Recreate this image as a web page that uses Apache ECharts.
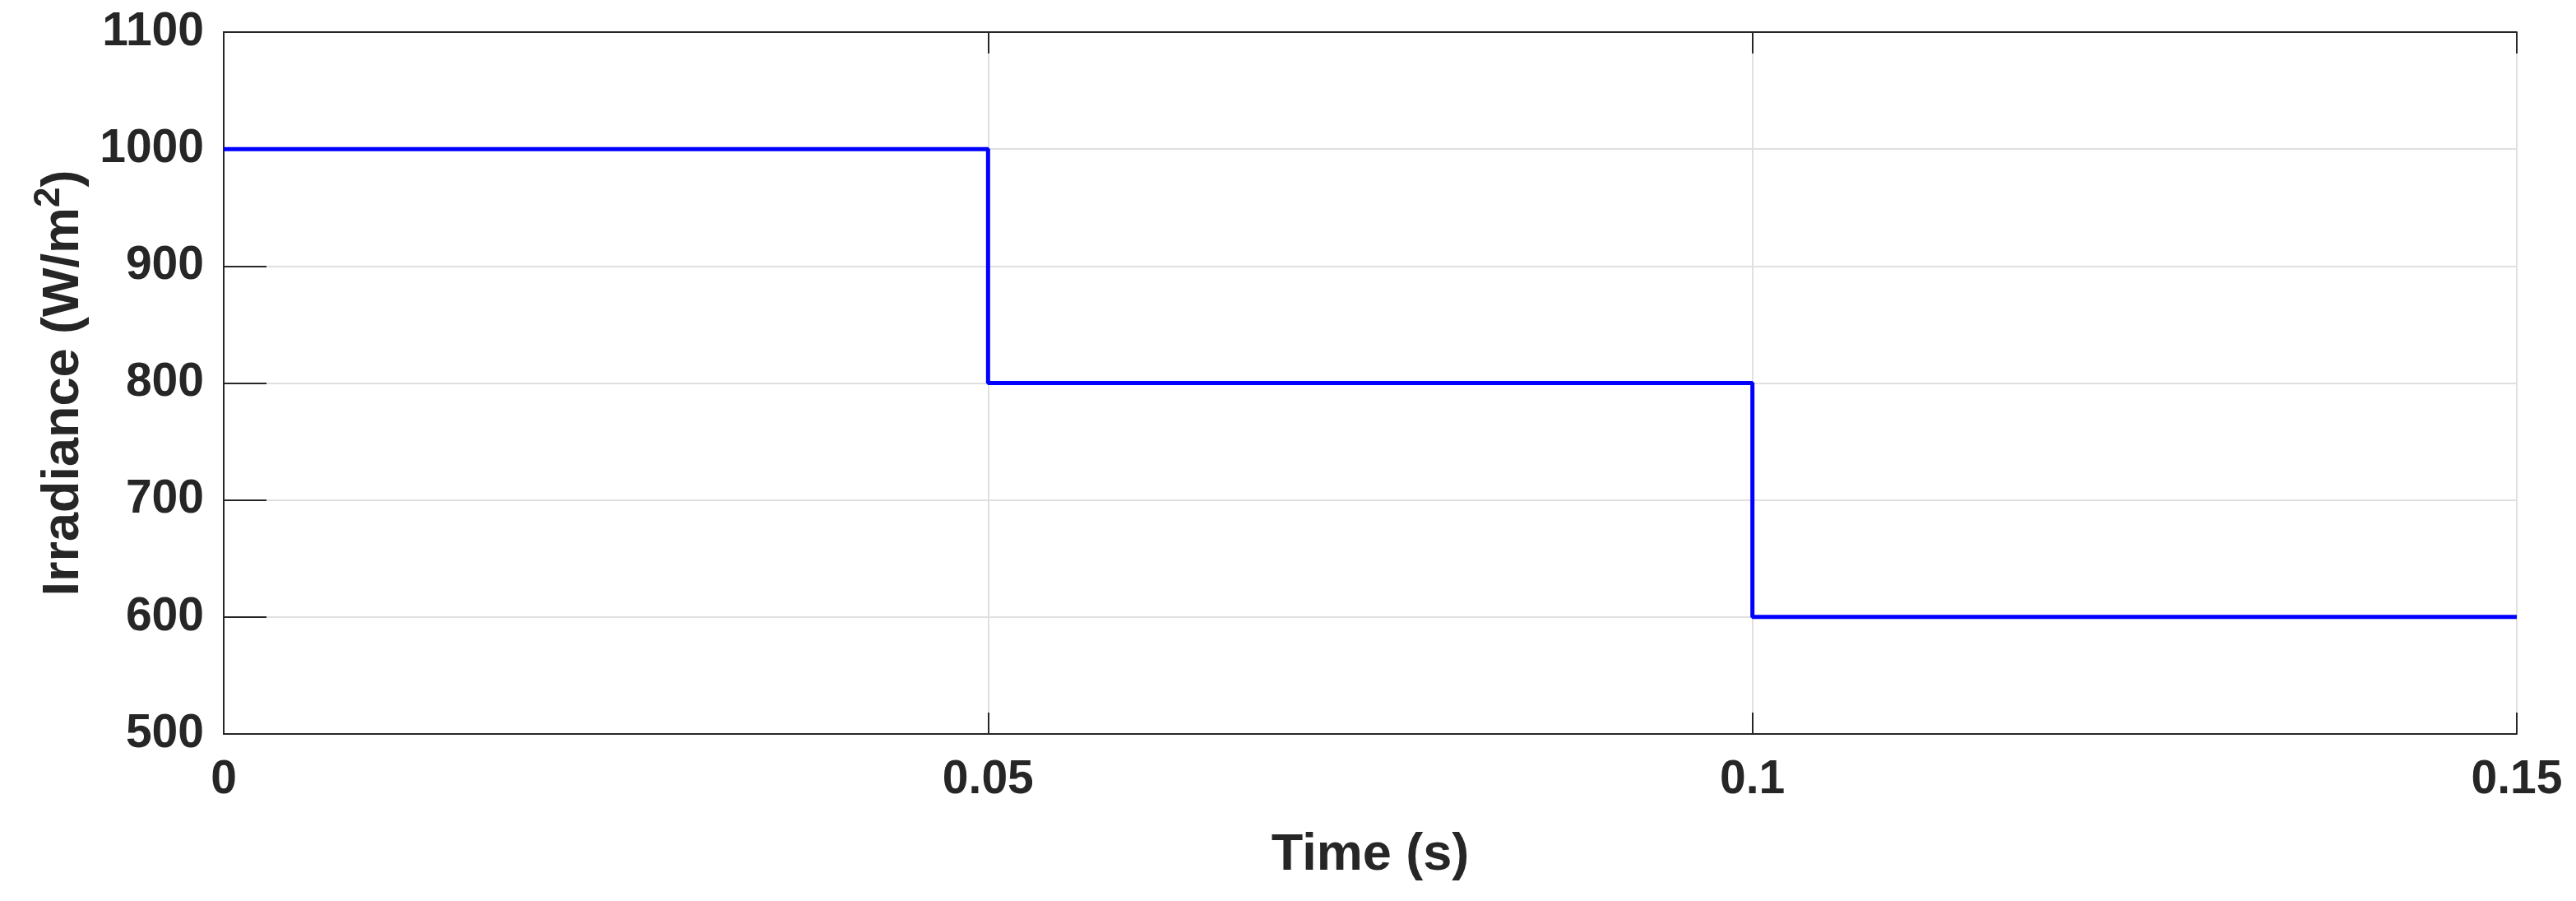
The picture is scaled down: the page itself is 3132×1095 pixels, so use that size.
<!DOCTYPE html>
<html>
<head>
<meta charset="utf-8">
<script src="https://cdn.jsdelivr.net/npm/echarts@6/dist/echarts.min.js"></script>
<style>
  html, body { margin: 0; padding: 0; background: #fff; }
  #chart { width: 3132px; height: 1095px; }
</style>
</head>
<body>
<div id="chart"></div>
<script>
// irradiance step profile
var timePoints = [0, 0.05, 0.05, 0.1, 0.1, 0.15];
var irradianceValues = [1000, 1000, 800, 800, 600, 600];
var xTicks = { min: 0, max: 0.15, interval: 0.05 };
var yTicks = { min: 500, max: 1100, interval: 100 };

var seriesData = timePoints.map(function (t, i) { return [t, irradianceValues[i]]; });

var ink = '#262626';
var font = 'Liberation Sans, Arial, Helvetica, sans-serif';
var tickLen = 26;

// box edge with no ticks (top / right side)
function edgeAxis(pos, ticks) {
    return {
        type: 'value', position: pos,
        min: ticks.min, max: ticks.max, interval: ticks.interval,
        axisLine: { show: true, lineStyle: { color: ink, width: 2 } },
        axisTick: { show: false },
        axisLabel: { show: false },
        splitLine: { show: false }
    };
}

// ticks only, shifted into the plot so they point inward from the box edge
function tickAxis(pos, ticks) {
    return {
        type: 'value', position: pos, offset: -tickLen,
        min: ticks.min, max: ticks.max, interval: ticks.interval,
        axisLine: { show: false },
        axisTick: { show: true, length: tickLen, lineStyle: { color: ink, width: 2 } },
        axisLabel: { show: false },
        splitLine: { show: false }
    };
}

var chart = echarts.init(document.getElementById('chart'));
chart.setOption({
    animation: false,
    backgroundColor: '#fff',
    grid: { left: 272, right: 72, top: 39, bottom: 203 },
    xAxis: [
        {
            type: 'value',
            position: 'bottom',
            min: xTicks.min, max: xTicks.max, interval: xTicks.interval,
            name: 'Time (s)',
            nameLocation: 'middle',
            nameGap: 116,
            nameTextStyle: { fontFamily: font, fontWeight: 'bold', fontSize: 63, color: ink },
            axisLine: { show: true, lineStyle: { color: ink, width: 2 } },
            axisTick: { show: false },
            axisLabel: { margin: 28, fontFamily: font, fontWeight: 'bold', fontSize: 57, color: ink },
            splitLine: { show: true, lineStyle: { color: '#e0e0e0', width: 2 } }
        },
        edgeAxis('top', xTicks),
        tickAxis('bottom', xTicks),
        tickAxis('top', xTicks)
    ],
    yAxis: [
        {
            type: 'value',
            position: 'left',
            min: yTicks.min, max: yTicks.max, interval: yTicks.interval,
            name: '{b|Irradiance (W/m}{sup|2}{b|)}',
            nameLocation: 'middle',
            nameGap: 154,
            nameTextStyle: {
                fontFamily: font, fontWeight: 'bold', fontSize: 63, color: ink,
                rich: {
                    b: { fontFamily: font, fontWeight: 'bold', fontSize: 63, color: ink, lineHeight: 80 },
                    sup: { fontFamily: font, fontWeight: 'bold', fontSize: 44, color: ink, verticalAlign: 'top', lineHeight: 44 }
                }
            },
            axisLine: { show: true, lineStyle: { color: ink, width: 2 } },
            axisTick: { show: false },
            axisLabel: {
                margin: 24, fontFamily: font, fontWeight: 'bold', fontSize: 57, color: ink,
                formatter: function (v) { return String(v); }
            },
            splitLine: { show: true, lineStyle: { color: '#e0e0e0', width: 2 } }
        },
        edgeAxis('right', yTicks),
        tickAxis('left', yTicks),
        tickAxis('right', yTicks)
    ],
    series: [{
        type: 'line',
        xAxisIndex: 0,
        yAxisIndex: 0,
        data: seriesData,
        showSymbol: false,
        lineStyle: { color: '#0000ff', width: 5 },
        itemStyle: { color: '#0000ff' }
    }]
});
</script>
</body>
</html>
